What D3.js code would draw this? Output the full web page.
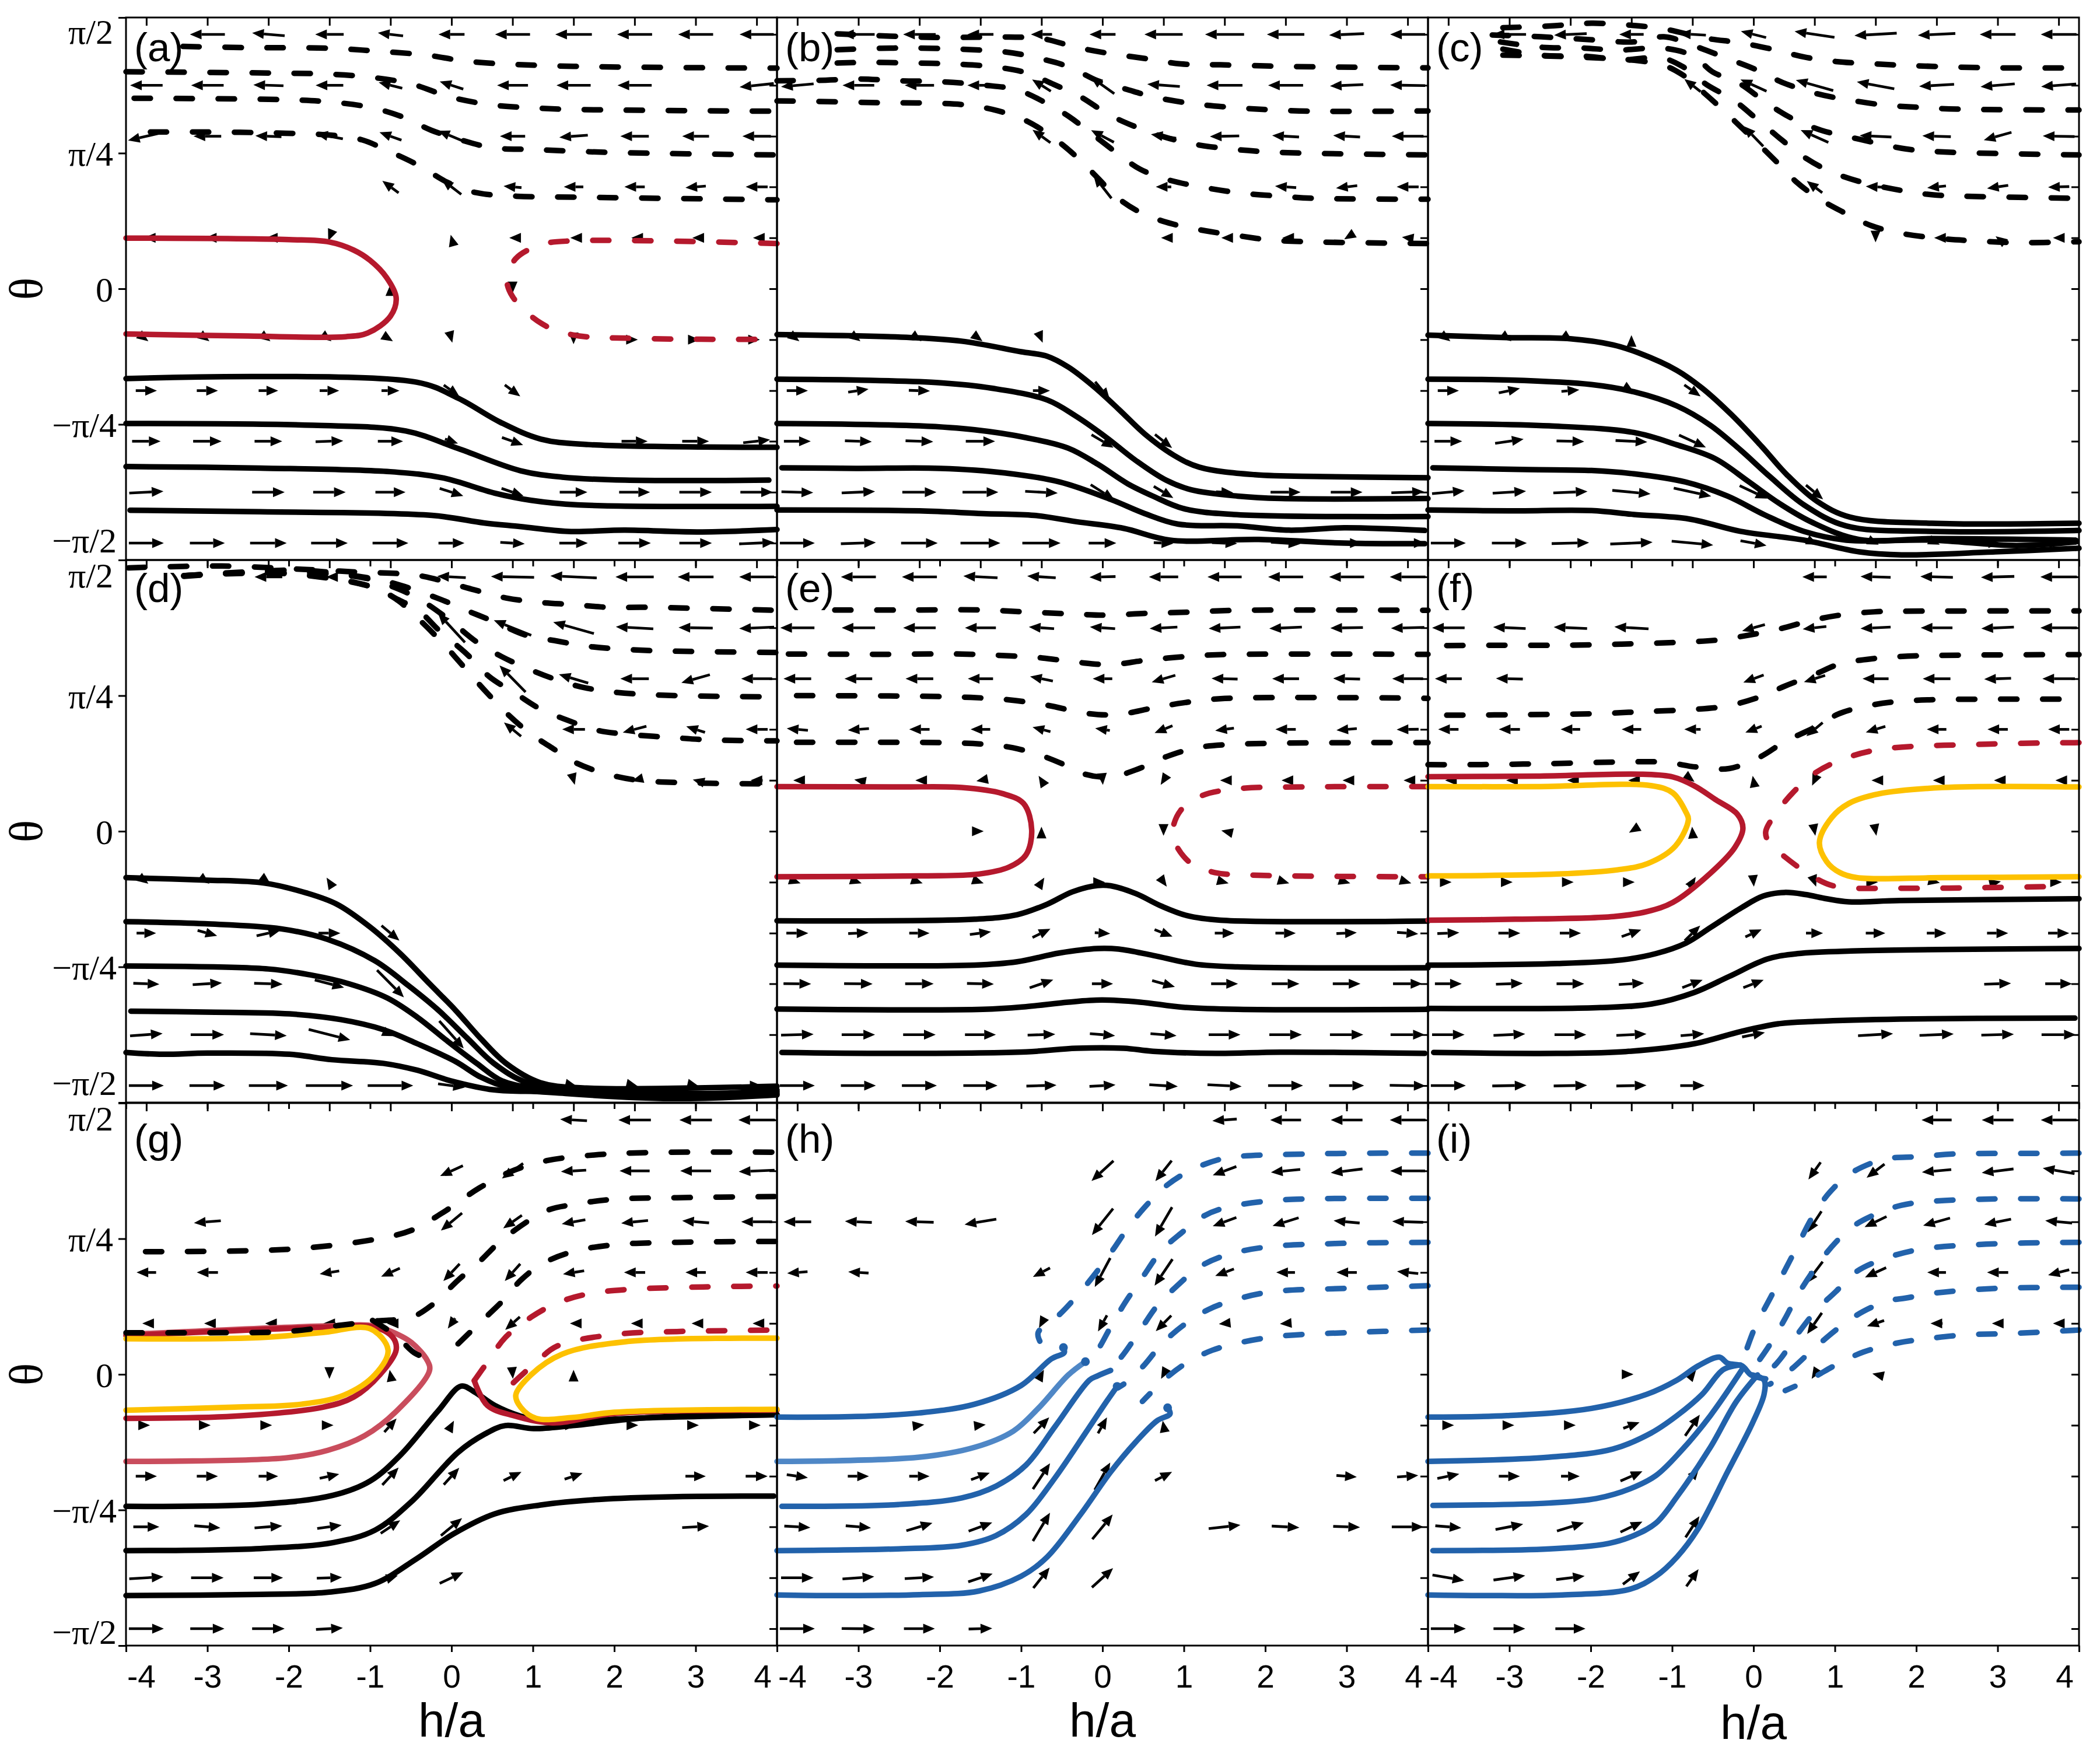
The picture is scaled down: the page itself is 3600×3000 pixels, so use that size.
<!DOCTYPE html>
<html><head><meta charset="utf-8">
<script src="https://cdn.jsdelivr.net/npm/d3@7/dist/d3.min.js"></script>
<style>html,body{margin:0;background:#fff}svg{display:block}</style></head><body>
<script>
const n=null;
const colH=[-3.75,-3,-2.25,-1.5,-.75,0,.75,1.5,2.25,3,3.75];
const rowT=[84.4,67.5,50.6,33.8,16.9,0,-16.9,-33.8,-50.6,-67.5,-84.4];
const xTicks=[-4,-3,-2,-1,0,1,2,3,4];
const yTicks=[90,45,0,-45,-90];
const yTickLabels=["π/2","π/4","0","−π/4","−π/2"];
const panelTags=["(a)","(b)","(c)","(d)","(e)","(f)","(g)","(h)","(i)"];

/* ---- (a) ---- */
const aDash=[
[[-3.3,80.4],[-2.5,80],[-1.5,79.8],[-.9,78.8],[-.3,77.5],[.1,75.8],[.5,74.8],[1.5,73.8],[4,73.2]],
[[-4,72],[-2,71.5],[-1.5,71.2],[-1,70.2],[-.5,68],[0,63.5],[.5,61],[1,60],[1.5,59.5],[4,58.9]],
[[-3.9,63.2],[-2,62.7],[-1.5,62],[-1,60.2],[-.6,57],[-.25,52.6],[.1,49.5],[.5,46.8],[1,46.2],[2,45.2],[4,44.4]],
[[-3.7,52],[-3,52],[-2.2,51.7],[-1.5,51],[-1.1,49.4],[-.8,46],[-.4,40.9],[-.05,35.3],[.3,31.9],[.8,30.7],[1.5,30.4],[4,29.5]]];
const aRed=[[[-4,16.8],[-2,16.3],[-1.5,15.5],[-1.2,12.8],[-1,9.4],[-.8,3.8],[-.68,-3],[-.75,-9.1],[-1.03,-14.7],[-1.3,-15.9],[-2.5,-15.7],[-4,-15]]];
const aRedDash=[[[4,15],[1.49,15.9],[1.11,14.7],[.79,10],[.68,3.2],[.76,-3],[1.11,-11.6],[1.49,-15.3],[2.32,-16.5],[4,-16.8]]];
const aSolid=[
[[-4,-29.8],[-.43,-31],[.08,-36.3],[.6,-44.3],[1.1,-49.9],[1.68,-51.7],[4,-52.6]],
[[-4,-44.7],[-1.7,-45.3],[-.56,-47.2],[.08,-53],[.85,-60.4],[1.36,-62.5],[2.13,-63.5],[3.9,-63.5]],
[[-4,-59],[-2.35,-59.5],[-.75,-60.7],[-.1,-62.8],[.53,-67.8],[.98,-70.2],[1.55,-71.7],[4,-72.2]],
[[-3.95,-73.5],[-2.35,-74],[-.24,-75.2],[.4,-77.7],[.85,-78.9],[1.43,-80.5],[2.13,-80.1],[3.03,-80.7],[4,-79.9]]];
const aU=[
[n,-43,-40,-35,-31,-32,-43,-45,-43,-43,-42],
[-40,-40,-37,-34,-29,-29,-38,-42,-42,n,-42],
[-45,-34,-32,-33,-27,-33,-31,-35,-35,-33,-35],
[n,n,n,n,-20,-24,-22,-24,-25,-25,-27],
[-6,-6,-6,-3,n,-2,-8,-8,-8,-8,-9],
[n,n,n,n,0,n,0,n,n,n,n],
[5,5,5,5,6,2,n,0,8,10,8],
[26,26,24,24,22,19,19,n,n,n,n],
[35,35,34,34,31,16,26,n,32,33,33],
[42,n,40,40,37,29,27,34,38,40,40],
[43,43,45,45,44,32,30,35,40,40,43]];
const aV=[
[0,0,.9,0,1,0,0,0,0,0,0],
[0,0,.3,0,1.9,2.5,0,0,0,0,-1.2],
[-2.8,0,.3,1.7,2.6,3.7,0,-.7,0,0,0],
[0,0,0,0,4,5,.5,0,0,-.5,0],
[0,0,0,-2,0,2,0,0,0,0,0],
[0,0,0,0,3,0,-3,0,0,0,0],
[-1,-1,-1,-1,-1,-2,0,-3,0,0,0],
[0,0,0,0,0,-3.7,-3.8,0,0,0,0],
[0,0,0,.3,0,-1.5,-2.5,0,0,0,1],
[.6,0,0,0,0,-2.5,-2.5,0,0,0,0],
[0,0,0,0,0,0,-.5,0,0,0,.5]];

/* ---- (b) ---- */
const bDash=[
[[-3.26,84.6],[-2.14,83.4],[-1.15,83.5],[-.74,83],[-.32,80.1],[.1,78],[.52,76.4],[.96,74.6],[1.45,74.3],[2.39,73.7],[4,73.3]],
[[-3.26,79.3],[-2.72,79.8],[-2.14,79.8],[-1.2,78.6],[-.87,77],[-.42,73.7],[-.06,69],[.28,66.3],[.62,63.7],[1.06,61.6],[1.48,60.4],[2.42,59],[4,59]],
[[-3.26,74.9],[-2.85,75.1],[-2.35,74.9],[-1.86,74.6],[-1.36,73.7],[-.94,71.7],[-.6,67.8],[-.27,63.7],[.07,57.9],[.41,53.7],[.78,50.2],[1.14,47.9],[1.56,46.4],[1.98,45.5],[2.45,45],[4,44.4]],
[[-4,69],[-3.4,69.2],[-2.98,69.6],[-2.5,69],[-1.99,68.7],[-1.47,67.6],[-1.05,66],[-.74,62.3],[-.42,57.3],[-.16,52],[.18,45],[.46,39.7],[.8,36.2],[1.25,33.6],[1.72,31.7],[2.19,30.7],[2.6,30],[4,29.7]],
[[-4,62.3],[-3.6,62.2],[-2.66,61.7],[-2.14,61.6],[-1.65,60.9],[-1.28,59],[-.92,55.5],[-.58,49.6],[-.32,43.8],[-.06,36.8],[.18,30.3],[.49,25],[.86,21.5],[1.27,19.2],[1.72,17.4],[2.05,16.2],[2.52,15.6],[4,15]]];
const bSolid=[
[[-4,-15.2],[-2.35,-16.2],[-1.73,-17.4],[-1,-20.9],[-.68,-22.4],[-.42,-26],[-.11,-32.4],[.2,-40],[.52,-48.2],[.88,-55.3],[1.19,-59.2],[1.87,-61.7],[2.71,-62.3],[4,-62.7]],
[[-4,-30],[-3.03,-30.3],[-1.99,-31.2],[-1.36,-33],[-.68,-36.9],[-.32,-42.4],[.05,-49.4],[.41,-57],[.78,-63.5],[1.09,-66.7],[1.66,-68.8],[2.19,-69.6],[4,-69.6]],
[[-4,-44.7],[-2.25,-45.5],[-1.57,-46.8],[-.94,-49.4],[-.42,-52.9],[-.06,-58.2],[.31,-64.7],[.62,-68.8],[.99,-72.9],[1.61,-74.9],[4,-75.6]],
[[-3.94,-59.4],[-3.03,-59.6],[-1.99,-59.6],[-1.2,-61.1],[-.53,-64.1],[.1,-69.9],[.52,-74.6],[.93,-78.1],[1.66,-78.7],[2.29,-80.1],[2.97,-79.3],[3.96,-80.2]],
[[-4,-73.4],[-2.25,-73.7],[-1.47,-74.6],[-.84,-75.2],[-.32,-77.3],[.26,-79.5],[.83,-83.4],[1.92,-83.2],[2.97,-84.4],[3.96,-84.6]]];
const bU=[
[n,-40,-40,-32,-26,-32,-47,-48,-46,-43,-43],
[-40,-39,-36,-32,-23,-29,-40,-44,-43,-41,-43],
[n,n,n,n,-22,-28,-31,-36,-33,-33,-39],
[n,n,n,n,n,-22,-19,n,-26,-26,-27],
[n,n,n,n,n,n,-6,-8,-8,-6,-14],
[n,n,n,n,n,n,n,n,n,n,n],
[5,5,5,5,3,n,n,n,n,n,n],
[26,25,26,n,21,18,n,n,n,n,n],
[33,33,34,36,n,27,21,n,n,n,n],
[39,41,42,44,40,29,24,21,37,39,40],
[43,43,45,49,47,34,24,31,36,37,44]];
const bV=[
[0,0,0,0,0,0,0,0,0,-.5,0],
[-1,0,0,0,3.9,5.6,.8,0,0,-.5,.2],
[0,0,0,0,4.3,4,1.3,-.2,.5,.5,0],
[0,0,0,0,0,7.6,0,0,.5,-.8,0],
[0,0,0,0,0,0,0,0,0,-1,.5],
[0,0,0,0,0,0,0,0,0,0,0],
[-1,-1,-1,-1,-2,0,0,0,0,0,0],
[0,1,-.2,0,0,-5.9,0,0,0,0,0],
[0,-.3,-.3,0,0,-4.3,-4.5,0,0,0,0],
[-.3,.5,0,0,-.6,-5,-3.9,-.3,0,0,.4],
[0,.4,0,0,0,0,-.3,-.3,-.6,0,0]];

/* ---- (c) ---- */
const cDash=[
[[-3.08,86.6],[-2.5,87.2],[-1.99,88.1],[-1.49,87.4],[-1.1,86.2],[-.58,83.1],[-.16,81.6],[.26,79.3],[.62,76.9],[1.01,75.4],[1.56,74.5],[2.08,73.9],[2.97,73.3],[4,73.3]],
[[-3.21,84.2],[-2.61,83.6],[-2.04,82.7],[-1.47,81.9],[-1.1,83.6],[-.74,80.7],[-.34,76.6],[.05,72.5],[.36,68.4],[.78,64.7],[1.14,62.8],[1.59,61],[2.03,60.2],[2.5,59.6],[4,59.3]],
[[-3.11,81.9],[-2.59,80.1],[-2.12,79.9],[-1.67,79.2],[-1.1,79.8],[-.74,77.2],[-.5,71.9],[-.19,68.4],[.15,61.9],[.46,56.7],[.83,52.6],[1.3,49.6],[1.87,46.4],[2.24,45.5],[4,44.4]],
[[-3.08,79.5],[-2.59,77.4],[-2.09,77.2],[-1.6,76],[-1.13,76.6],[-.87,73.7],[-.58,67.8],[-.24,62.5],[.05,56.1],[.36,49.1],[.65,43.2],[.93,39.1],[1.3,35.6],[1.82,32.6],[2.19,31.2],[2.6,30.7],[4,30]],
[[-3.08,77.5],[-1.2,74.8],[-.89,71.3],[-.63,65.5],[-.32,57.9],[.31,41.4],[.52,35.6],[.78,30.3],[1.09,25.6],[1.45,20.9],[1.77,18.6],[2.24,16.8],[2.71,15.9],[3.23,15.3],[4,15.6]]];
const cSolid=[
[[-4,-15.4],[-3.03,-16.2],[-2.25,-16.6],[-1.73,-18.6],[-1.41,-21.3],[-.94,-27.1],[-.63,-33],[-.27,-41.8],[.1,-52.3],[.41,-61.7],[.78,-70.5],[1.19,-75.8],[2.19,-77.8],[4,-77.8]],
[[-4,-30],[-3,-30.3],[-1.99,-31.8],[-1.47,-34.2],[-.94,-38.9],[-.53,-45.3],[-.16,-53.5],[.2,-62.3],[.62,-71.7],[1.14,-78.7],[2.19,-80.5],[4,-80.2]],
[[-4,-44.7],[-2.51,-45.5],[-1.47,-47.7],[-.94,-51.8],[-.47,-56.4],[-.06,-64],[.31,-71.1],[.72,-77.5],[1.3,-83.2],[2.19,-82.9],[3.96,-83.4]],
[[-3.94,-59.4],[-2.77,-60],[-1.99,-60.3],[-1.47,-61.4],[-.84,-64.1],[-.32,-68.8],[.15,-75.2],[.62,-80.5],[1.14,-83.4],[2.19,-83.4],[3.23,-85.2],[3.96,-84]],
[[-4,-73.4],[-3,-73.7],[-1.99,-73.6],[-1.47,-74.9],[-.79,-76.4],[-.16,-80.5],[.62,-83.4],[1.3,-87.3],[1.82,-88.3],[2.97,-87.3],[4,-86.1]]];
const cU=[
[n,-41,-40,-30,-33,-31,-49,-52,-46,-44,-44],
[n,n,n,n,-20,-32,-46,-46,-43,-42,-43],
[n,n,n,n,n,-24,-34,-39,-35,-34,-39],
[n,n,n,n,n,n,-19,-24,-23,-26,-26],
[n,n,n,n,n,n,n,0,-6,-5,-14],
[n,n,n,n,n,n,n,n,n,n,n],
[5,5,5,0,n,n,n,n,n,n,n],
[26,26,22,6,20,n,n,n,n,n,n],
[34,35,34,39,33,n,n,n,n,n,n],
[40,41,42,47,46,34,21,n,n,n,n],
[43,43,46,52,51,32,8,8,8,6,6]];
const cV=[
[0,0,-.5,0,.5,2.1,2,-.8,-.6,0,0],
[0,0,0,0,4.2,3.9,3.5,2.3,-.7,-1,-.9],
[0,0,0,0,0,6.7,4.1,.5,.3,-2.6,.2],
[0,0,0,0,0,0,3.9,.3,-.6,-1,-.2],
[0,0,0,0,0,0,0,-3,0,1,0],
[0,0,0,0,0,0,0,0,0,0,0],
[-1,-1,-1,3,0,0,0,0,0,0,0],
[0,1.5,.5,-1,-3.8,0,0,0,0,0,0],
[0,1.4,-.2,-.5,-4.1,0,0,0,0,0,0],
[1,.7,.5,-1.2,-2.7,-4.3,-4.7,0,0,0,0],
[0,0,.3,.6,-1.3,-1.6,-1,-1,-1,0,0]];

/* ---- (d) ---- */
const dDash=[
[[-3.97,87.4],[-2.82,88],[-1.83,86.9],[-1.15,86],[-.47,85.1],[-.19,83.6],[.28,80.1],[.67,77.4],[1.06,76],[1.5,75.2],[1.92,74.3],[2.39,74.3],[4,73.3]],
[[-3.29,84.8],[-2.56,86],[-1.83,86.6],[-1.2,84.8],[-.74,82.5],[-.16,77.2],[.2,73.1],[.52,69.6],[.93,64.9],[1.3,63.1],[1.61,61.6],[1.98,60.6],[2.5,59.9],[4,59.3]],
[[-3.29,84.6],[-2.25,86],[-1.1,84.2],[-.68,80.7],[-.37,76.6],[-.03,70.2],[.31,62.8],[.62,57.9],[.96,53.7],[1.3,50.2],[1.66,47.5],[2.29,45.5],[4,44.6]],
[[-3.29,84.8],[-2.09,85.7],[-1,81.3],[-.68,77.2],[-.4,73.1],[-.14,66.3],[.18,59],[.46,51.4],[.8,45.5],[1.09,40.6],[1.43,36.8],[1.79,33.5],[2.19,32.1],[2.71,31.1],[3.18,30.3],[4,30]],
[[-3.29,84.8],[-1.99,85.4],[-.94,80.7],[-.66,76.6],[-.38,69.8],[-.08,61.6],[.14,54.9],[.41,46.7],[.68,39.1],[.96,32.6],[1.25,27.4],[1.53,22.7],[1.92,18.9],[2.32,16.8],[2.76,16.2],[3.18,15.9],[4,15.7]]];
const dSolid=[
[[-4,-15.4],[-3.03,-16.2],[-2.3,-17.2],[-1.78,-20.5],[-1.41,-24.2],[-1,-31.8],[-.63,-40.6],[-.27,-50.6],[.05,-59.4],[.36,-68.8],[.67,-77],[1.09,-83.4],[1.66,-85.2],[4,-84.6]],
[[-4,-30],[-3.03,-30.7],[-2.09,-32.4],[-1.52,-35.9],[-.94,-43],[-.53,-51.2],[-.16,-59.4],[.2,-68.8],[.52,-77],[.93,-83.4],[1.66,-85.8],[3.23,-87],[4,-85.8]],
[[-4,-44.7],[-2.25,-45.7],[-1.73,-47.7],[-1.26,-50.6],[-.79,-55.3],[-.42,-61.7],[-.06,-69.4],[.31,-77],[.62,-82.8],[1.04,-85.2],[2.19,-87],[3.23,-88.1],[4,-86.4]],
[[-3.94,-59.7],[-3.03,-60],[-1.99,-60.6],[-1.36,-62.5],[-.84,-65.8],[-.42,-70.5],[.05,-76.4],[.36,-81.6],[.72,-85.2],[1.4,-87],[2.71,-88.7],[4,-87.5]],
[[-4,-73.4],[-3.55,-74],[-3,-73.6],[-1.99,-74],[-1.47,-75.8],[-.84,-77],[-.42,-79.3],[-.01,-82.8],[.52,-85.8],[1.14,-86.4],[2.71,-87.5],[4,-87]]];
const dU=[
[n,n,-34,-8,n,-35,-53,-57,-47,-44,-43],
[n,n,n,n,n,-33,-46,-50,-46,-42,-43],
[n,n,n,n,n,n,-32,-36,-35,-35,-38],
[n,n,n,n,n,n,-21,-28,-29,-23,-27],
[n,n,n,n,n,n,n,3,-7,-7,-15],
[n,n,n,n,n,n,n,n,n,n,n],
[5,5,5,-7,n,n,n,n,n,n,n],
[24,24,29,27,22,n,n,n,n,n,n],
[32,36,35,36,33,n,n,n,n,n,n],
[40,41,45,51,8,30,n,n,n,n,n],
[43,44,48,58,56,33,8,8,8,8,12]];
const dV=[
[0,0,0,0,0,.5,.3,.7,0,0,0],
[0,0,0,0,0,9.7,5,3.8,.7,.2,-.5],
[0,0,0,0,0,0,8.8,2.9,0,-2.7,0],
[0,0,0,0,0,0,4.6,0,-2.1,2,0],
[0,0,0,0,0,0,0,-3,-.5,.5,0],
[0,0,0,0,0,0,0,0,0,0,0],
[-1,-1,-1,3,0,0,0,0,0,0,0],
[0,-1.8,1.8,0,-5,0,0,0,0,0,0],
[-.3,.6,-.3,-2.5,-9,0,0,0,0,0,0],
[.8,0,-.7,-3.5,-1,-9.1,0,0,0,0,0],
[0,0,0,0,0,-1.2,0,-.5,-.5,-.5,0]];

/* ---- (e) ---- */
const eDash=[
[[-3.29,73.4],[-2.51,73.4],[-1.47,73.4],[-.89,72.7],[-.37,72.1],[.05,71.7],[.54,72.3],[1.04,72.7],[1.66,73.3],[4,73.3]],
[[-3.86,58.8],[-2.77,58.7],[-1.73,58.8],[-1.15,58.2],[-.74,57.5],[-.32,56.1],[.1,55.3],[.52,56.7],[.99,57.9],[1.45,58.6],[4,58.7]],
[[-3.76,45],[-2.25,44.8],[-1.62,44.4],[-1.15,43.6],[-.68,41.8],[-.19,39.1],[.18,38.7],[.62,40.9],[.99,42.6],[1.45,44],[4,44.1]],
[[-3.76,29.5],[-1.99,29.4],[-1.47,28.9],[-1.1,27.7],[-.74,25],[-.42,21.5],[-.21,18.9],[.1,18],[.46,20.9],[.78,24.7],[1.14,27.6],[1.56,28.8],[4,29.4]]];
const eRed=[[[-4,14.8],[-2.51,14.7],[-1.73,14.5],[-1.23,12.5],[-.97,9.2],[-.87,.4],[-.94,-7.8],[-1.15,-11.9],[-1.52,-14.2],[-2.25,-14.8],[-4,-15.1]]];
const eRedDash=[[[4,14.8],[2.45,14.7],[1.66,14.1],[1.22,11.8],[.96,6.9],[.86,-.2],[.91,-4.9],[1.09,-10.7],[1.38,-13.7],[1.92,-14.6],[4,-15.1]]];
const eSolid=[
[[-4,-29.7],[-1.57,-29.2],[-1.05,-27.7],[-.68,-24.2],[-.37,-20.1],[-.06,-18],[.1,-18.1],[.41,-20.7],[.72,-24.8],[1.04,-28],[1.45,-29.5],[4,-29.8]],
[[-4,-44.4],[-1.57,-44.4],[-1.05,-43.3],[-.53,-40.4],[-.06,-38.9],[.2,-39.1],[.62,-41.2],[1.14,-44.1],[1.66,-45],[4,-45.3]],
[[-4,-59],[-1.47,-59.1],[-.94,-58.2],[-.42,-56.7],[-.01,-56],[.46,-56.7],[.99,-58.4],[1.66,-59.1],[4,-59.1]],
[[-3.94,-73.4],[-2.51,-73.7],[-.94,-73.2],[-.32,-72],[.26,-72],[.62,-73],[1.4,-73.7],[2.19,-73.3],[3.96,-73.7]]];
const eU=[
[n,-43,-43,-42,-35,-32,-36,-42,-43,-43,-44],
[-42,-41,-40,-38,-31,-31,-34,-39,-40,-40,-41],
[-34,-34,-34,-31,-28,-24,-29,-32,-33,-33,-38],
[-26,-26,-25,-24,-22,-18,-22,-23,-25,-25,-27],
[-10,-10,-10,-10,-7,1,-7,-11,-10,-10,-10],
[n,n,n,8,0,n,0,-8,n,n,n],
[8,8,8,8,7,6,8,10,9,9,9],
[27,25,25,26,22,19,22,24,25,25,26],
[34,35,35,33,29,26,28,33,34,34,36],
[40,41,40,38,34,31,32,39,40,41,42],
[43,43,43,42,37,32,35,42,43,43,44]];
const eV=[
[0,0,0,.6,.6,-.2,0,0,0,0,0],
[0,0,0,0,.6,.6,-.5,-.5,-.5,-.2,-.3],
[0,0,0,0,1.5,0,-2.3,.2,0,.2,0],
[.6,-.5,0,0,1.5,.7,-2.4,-.8,0,-.5,-.1],
[0,.5,0,-.5,3,-3,-3,0,0,0,0],
[0,0,0,0,3,0,-3,.5,0,0,0],
[-.7,-.7,-.7,-.7,3,0,-3,-.7,-.7,-.7,-.7],
[0,.3,0,.9,2.9,-.3,-2.3,0,0,.3,-.5],
[-.1,-.1,0,-.2,2.7,0,-2.1,0,0,0,0],
[.3,0,0,0,.3,-.7,-.7,0,0,0,0],
[0,0,0,0,.3,.5,-.6,-.6,0,0,-.2]];

/* ---- (f) ---- */
const fDash=[
[[-3.77,61.6],[-3.2,61.7],[-2.41,61.7],[-1.62,62.1],[-.83,62.8],[-.46,63.4],[-.09,64.9],[.33,67.2],[.69,69.8],[1.06,71.7],[1.48,72.8],[1.85,73],[4,73.1]],
[[-3.77,38.5],[-2.78,38.7],[-1.83,39.1],[-1.36,39.7],[-.83,40.3],[-.36,41.4],[.06,44.4],[.38,48.1],[.75,52],[1.06,55.5],[1.48,57.3],[1.9,58.1],[4,58.6]],
[[-4,22.1],[-3.46,22.1],[-2.57,22.4],[-1.62,23],[-1.09,22.9],[-.7,21.3],[-.3,20.8],[.09,24.8],[.38,29.7],[.75,34.4],[1.06,39.1],[1.48,42],[1.85,43.2],[2.32,43.7],[4,43.8]]];
const fRed=[[[-4,18.1],[-2.67,18.3],[-1.36,18.9],[-.99,18],[-.73,15.1],[-.46,10.4],[-.2,5.7],[-.13,1],[-.23,-5.4],[-.52,-13.7],[-.99,-23.6],[-1.3,-26.6],[-1.72,-28.3],[-2.93,-29.2],[-4,-29.5]]];
const fRedDash=[[[4,29.4],[2.85,28.9],[1.54,27.1],[1.06,23.5],[.75,19.2],[.48,12.7],[.27,5.7],[.15,-.2],[.19,-3.7],[.38,-8.4],[.75,-15.4],[1.01,-18.3],[1.8,-18.9],[2.85,-18.7],[3.8,-18.3]]];
const fYellow=[
[[-4,14.8],[-2.67,14.8],[-1.25,15.1],[-.99,12.7],[-.83,6.3],[-.8,3.9],[-.96,-4.9],[-1.3,-10.7],[-1.67,-12.8],[-2.41,-14.2],[-4,-14.8]],
[[4,14.7],[2.32,14.5],[1.54,12.4],[1.17,9.2],[.96,4.5],[.81,-3.7],[.9,-10.1],[1.06,-13.7],[1.27,-15.4],[2.32,-15.4],[4,-15.1]]];
const fSolid=[
[[4,-22.4],[1.8,-23],[1.17,-23.4],[.9,-22.4],[.64,-21],[.38,-20.3],[.12,-21.5],[-.15,-25.4],[-.52,-31.8],[-.83,-37.1],[-1.2,-40.6],[-1.62,-42.7],[-2.41,-43.9],[-4,-44.4]],
[[4,-38.9],[1.27,-39.7],[.54,-40.6],[.17,-42.4],[-.3,-48.2],[-.73,-53.5],[-1.25,-57.3],[-1.88,-58.5],[-4,-58.8]],
[[3.95,-62],[1.8,-62.3],[.75,-63.1],[.33,-63.8],[-.15,-66.4],[-.73,-70.5],[-1.57,-73.1],[-2.41,-73.7],[-3.93,-73.4]]];
const fU=[
[n,n,n,n,n,n,-30,-37,-40,-41,-45],
[-40,-40,-41,-42,n,-28,-29,-37,-39,-40,-45],
[-33,-33,n,n,n,-25,-26,-32,-34,-33,-40],
[-25,-26,-24,-24,-20,-20,-20,-24,-24,-25,-26],
[-8,-8,-8,-8,5,-2,-6,-10,-9,-9,-8],
[n,n,n,-6,-1,n,2,2,n,n,n],
[8,8,8,8,8,1,4,6,8,8,8],
[27,27,26,24,19,20,21,24,24,26,26],
[33,33,34,31,25,25,n,n,n,33,33],
[40,39,39,37,29,28,n,43,42,40,42],
[43,42,41,37,30,n,n,n,n,n,n]];
const fV=[
[0,0,0,0,0,0,0,.3,.3,-.3,0],
[0,.5,.5,.7,0,-2.1,-.9,-.5,0,-.5,0],
[0,.2,0,0,0,-2.5,-2.2,0,0,-.3,0],
[0,0,0,0,0,-2.1,-4.5,-2,0,0,0],
[0,0,0,0,-1,3,-3.5,0,0,0,0],
[0,0,0,-1,3,0,-3,-3,0,0,0],
[0,0,0,0,3.5,-3,-3,0,-.5,.5,0],
[.3,0,0,2.3,5,2.5,0,0,0,0,0],
[0,.3,0,.5,2.6,2.6,0,0,0,.3,0],
[0,.5,0,.5,.7,1.5,0,.7,.5,.3,0],
[0,.2,.2,.2,0,0,0,0,0,0,0]];

/* ---- (g) ---- */
const gDash=[
[[-3.76,40.7],[-2.35,41.1],[-1.71,42.1],[-.94,44.8],[-.49,47.8],[-.11,53.6],[.34,61.8],[.72,67.2],[1.17,70.9],[1.81,72.9],[2.45,73.6],[4,73.7]],
[[-4,13.8],[-2.99,13.8],[-2.03,14.2],[-1.39,16.2],[-.97,17.6],[-.49,19],[-.24,23],[.08,31.2],[.34,37.3],[.63,44.8],[1.17,54.3],[1.49,56.3],[2,58.1],[2.77,58.6],[4,59]],
[[.08,10.1],[.34,16.9],[.63,24.4],[.85,31.2],[1.11,36.6],[1.49,40.7],[2,43],[2.77,43.8],[4,44.1]],
[[-.97,17.9],[-.68,12.8],[-.43,6.7],[-.11,4.7]]];
const gRedDash=[
[[.28,-2.1],[.44,4],[.66,12.2],[.98,19],[1.3,23.7],[1.68,26.7],[2.13,28.1],[3.09,29],[4,29.3]],
[[.76,-2.8],[1.04,4],[1.3,9.4],[2,13.2],[2.77,14.2],[3.41,14.5],[4,14.7]]];
const gRed=[
[[-4,-14.6],[-2.67,-13.9],[-1.58,-10.9],[-1.2,-7.5],[-.88,-.1],[-.68,8.1],[-.72,12.2],[-.94,15.6],[-1.58,15.6],[-4,12.8]],
[[.28,-2.1],[.44,-10.3],[.76,-13.7],[1.24,-16.1],[2,-13],[4,-11.9]]];
const gPink=[[[-4,-28.9],[-2.03,-27.7],[-1.52,-25.2],[-1.07,-20.4],[-.68,-12.3],[-.27,1.3],[-.3,4.7],[-.49,10.5],[-.68,13.5],[-.94,16],[-1.58,16],[-4,13.2]]];
const gYellow=[
[[-4,11.8],[-2.35,12.2],[-1.58,13.9],[-1,15.1],[-.78,8.1],[-.94,-.1],[-1.32,-6.9],[-1.84,-9.9],[-2.67,-10.9],[-4,-11.9]],
[[4,12],[2.13,10.8],[1.36,6.7],[.98,-.1],[.79,-6.9],[.85,-10.9],[1.04,-14.6],[1.49,-14.3],[2,-12.6],[4,-11.6]]];
const gSolid=[
[[-4,-43.8],[-2.35,-43.1],[-1.45,-40.1],[-1,-35.4],[-.62,-26.6],[-.17,-12.3],[.12,-3.9],[.28,-5.8],[.53,-10.3],[.85,-13.9],[1.1,-15.4],[1.49,-15.7],[2.13,-14.7],[4,-13.4]],
[[-4,-58.5],[-2.35,-57.8],[-1.45,-55.8],[-.94,-51.7],[-.49,-42.2],[.08,-25.9],[.41,-19.8],[.66,-17],[1.01,-18],[1.49,-17],[2.45,-14.3],[4,-13.4]],
[[-4,-73.4],[-2.35,-73],[-1.52,-72.3],[-.94,-69.4],[-.43,-61.2],[.02,-53],[.53,-46.3],[1.11,-43.3],[1.81,-41.5],[2.77,-40.6],[3.96,-40.4]]];
const gU=[
[n,n,n,n,n,n,n,-33,-40,-40,-45],
[n,n,n,n,n,-28,-26,-31,-37,-38,-44],
[n,-33,n,n,n,-26,-23,-29,-33,-33,-38],
[-24,-26,n,-24,-23,-20,-19,-26,-26,-25,-27],
[-10,-8,-8,-15,-9,-9,-18,-9,-9,-10,-10],
[n,n,n,0,-2,n,1,0,n,n,n],
[9,8,9,10,15,6,n,8,9,8,10],
[26,26,24,24,20,19,22,22,n,25,27],
[32,32,34,30,24,26,n,n,n,33,n],
[42,40,36,31,18,29,n,n,n,n,n],
[43,42,40,33,n,n,n,n,n,n,n]];
const gV=[
[0,0,0,0,0,0,0,.5,0,0,0],
[0,0,0,0,0,-3.4,-5,-.5,0,0,-.5],
[0,-.7,0,0,0,-5.8,-4.3,-1.4,-.9,.7,0],
[0,0,0,-1,-2.8,-5.7,-5.7,-1.1,0,0,0],
[0,0,0,0,0,-3.4,-4.3,0,0,0,0],
[0,0,0,-3,3,0,-3,3,0,0,0],
[0,0,0,0,4.5,3,0,0,0,0,0],
[0,0,0,1.4,5.8,5.6,2.9,2,0,0,0],
[0,-.7,.7,1.1,4.3,5.8,0,0,0,.5,0],
[.7,0,0,.3,1.5,3.7,0,0,0,0,0],
[0,0,0,.5,0,0,0,0,0,0,0]];

/* ---- (h) ---- */
const hBlueDash=[
[[4,73.4],[3.44,73.4],[2.5,73.1],[1.66,72.3],[1.45,71.4],[1.09,67.8],[.78,62.5],[.52,55.5],[.31,48.5],[.13,41.4],[-.06,34.4],[-.27,27.4],[-.53,19.8],[-.79,13.9],[-.77,11]],
[[4,58.4],[2.5,58.2],[2.03,57.5],[1.51,55.3],[1.25,52.6],[.96,46.7],[.72,40.9],[.49,32.1],[.28,23.9],[.1,15.7],[-.08,7.4],[-.21,4.5]],
[[4,43.8],[2.86,43.4],[2.03,42.3],[1.51,39.5],[1.19,35.6],[.93,29.7],[.67,22.7],[.46,14.5],[.23,5.7],[.05,.6]],
[[4,29.4],[2.97,28.5],[2.08,27.4],[1.66,25],[1.3,21.5],[.99,16.2],[.72,9.8],[.52,3.3],[.33,-1.9],[.2,-4.3]],
[[4,14.7],[3.07,13.9],[2.19,12.7],[1.72,10.7],[1.35,8],[1.04,3.9],[.78,-1.3],[.49,-9]]];
const hBlue=[
[[-4,-14.2],[-3.03,-14],[-2.25,-12.8],[-1.57,-9.9],[-1,-3.7],[-.63,5.1],[-.47,7.2],[-.48,8.9]],
[[-3.94,-43.8],[-2.51,-43.2],[-1.73,-41],[-1.31,-37.1],[-.94,-30.1],[-.58,-17.2],[-.16,-1.9],[-.06,-.5],[.1,1.3]],
[[-4,-58.5],[-2.51,-57.9],[-1.73,-56.7],[-1.31,-53.5],[-.94,-46.5],[-.58,-34.2],[-.21,-19.5],[.05,-9],[.18,-4]],
[[-4,-73.2],[-3.29,-73.4],[-2.25,-73.1],[-1.52,-71.9],[-1,-67],[-.68,-60.6],[-.27,-46.5],[.1,-32.4],[.41,-22.4],[.67,-15.4],[.83,-13.1],[.8,-11.1]]];
const hLight=[[[-4,-28.9],[-2.25,-27.5],[-1.57,-24.2],[-1.1,-18.9],[-.79,-11.3],[-.42,-.2],[-.21,4.2]]];
const hEnds=[[-.48,8.9],[-.21,4.2],[.18,-4],[.8,-11.1]];
const hU=[
[n,n,n,n,n,n,n,-30,-38,-39,-44],
[n,n,n,n,n,-27,-20,-29,-36,-39,-43],
[-34,-33,-35,-39,n,-26,-21,-29,-32,-32,-38],
[-25,-25,n,n,-21,-19,-22,-23,-23,-25,-26],
[n,n,n,n,-6,-11,-19,-14,-14,n,n],
[n,n,n,n,6,n,-6,n,n,n,n],
[n,n,12,13,19,11,-2,n,n,n,n],
[26,26,25,23,21,19,21,n,n,25,26],
[32,31,32,29,21,25,n,39,34,33,39],
[40,39,36,30,20,26,n,n,n,n,n],
[43,41,38,29,n,n,n,n,n,n,n]];
const hV=[
[0,0,0,0,0,0,0,-.6,0,0,0],
[0,0,0,0,0,-6.7,-6.8,-2.9,-1,-1.3,0],
[0,.4,.3,-1.8,0,-8.8,-9.7,-2.9,-2.7,.8,.3],
[-.5,.4,0,0,-3,-9.6,-8.8,-2.3,0,0,.7],
[0,0,0,0,-3,-5.3,-5.2,-.4,-.3,0,0],
[0,0,0,0,3,0,-3,0,0,0,0],
[0,0,.4,.4,5.3,5.3,3,0,0,0,0],
[-1,0,0,2.3,8.6,9.1,2.9,0,0,-.5,.5],
[-.5,-.7,2.6,2.9,9.4,8.2,0,1.2,-.5,-.3,0],
[0,.8,.6,2.7,6.8,6.4,0,0,0,0,0],
[0,-.1,0,.2,0,0,0,0,0,0,0]];

/* ---- (i) ---- */
const iBlueDash=[
[[4,73.4],[3.38,73.3],[2.45,73.1],[2.03,72.2],[1.66,71.7],[1.48,70.4],[1.19,66.6],[.93,60.2],[.72,52],[.54,42.6],[.36,33.2],[.2,25],[.02,15.7],[-.11,6.3]],
[[4,58.2],[2.97,58.2],[2.13,57.3],[1.82,56.1],[1.59,54.1],[1.25,49.6],[1.01,43.8],[.8,36.8],[.54,26.2],[.39,18.6],[.2,9.8],[.05,3.9]],
[[4,43.8],[2.86,43.2],[2.03,41.4],[1.56,37.9],[1.25,33.8],[1.01,27.4],[.78,21.5],[.54,13.3],[.33,5.1],[.15,-.2]],
[[4,28.9],[2.97,28.5],[2.24,27],[1.87,25.3],[1.66,24.4],[1.35,20.9],[1.06,15.7],[.72,8],[.46,1.6],[.2,-3.3]],
[[4,14.7],[3.13,13.5],[2.6,13.1],[2.13,11.8],[1.77,10.4],[1.35,7.4],[1.01,3.1],[.72,-1.3],[.39,-5.4]]];
const iBlue=[
[[-4,-14.2],[-3.03,-13.7],[-1.99,-11.3],[-1.31,-6.6],[-.94,-1.9],[-.68,2.8],[-.42,5.7],[-.32,3.7],[-.14,2.8],[-.03,-.2],[.15,-1.5]],
[[-4,-28.9],[-2.51,-27.5],[-1.73,-24.8],[-1.26,-19.5],[-.94,-13.7],[-.63,-6.6],[-.37,1.6],[-.16,3.1]],
[[-3.94,-43.5],[-2.51,-42.7],[-1.93,-41.2],[-1.52,-38],[-1.2,-33.6],[-.89,-25.4],[-.53,-13.7],[-.14,1.6]],
[[-3.94,-58.5],[-2.51,-57.9],[-1.78,-56.1],[-1.47,-53.5],[-1.2,-49.4],[-.94,-40.6],[-.53,-24.2],[-.21,-9],[.05,-.2]],
[[-4,-73.2],[-3.29,-73.4],[-2.35,-73.2],[-1.52,-71.3],[-1.2,-67],[-.94,-60.6],[-.68,-51.2],[-.32,-32.4],[-.01,-16],[.13,-6.6],[.13,-1.9],[-.01,-.2]]];
const iU=[
[n,n,n,n,n,n,n,n,-37,-39,-44],
[n,n,n,n,n,n,-15,-22,-36,-39,-39],
[n,n,n,n,n,n,-17,-27,-33,-33,-33],
[n,n,n,n,n,n,-20,-26,-23,-26,-26],
[n,n,n,n,n,n,-18,-21,-15,-14,-14],
[n,n,n,5,9,n,-7,-8,n,n,n],
[14,12,13,20,18,n,n,n,n,n,n],
[27,26,23,27,16,n,n,n,n,n,n],
[32,34,33,27,17,n,n,n,n,n,n],
[39,39,35,21,15,n,n,n,n,n,n],
[43,39,37,n,n,n,n,n,n,n,n]];
const iV=[
[0,0,0,0,0,0,0,0,0,0,0],
[0,0,0,0,0,0,-5.7,-4.5,-.9,-1.3,1.8],
[0,0,0,0,0,0,-7,-3.5,-2.5,-1.8,.8],
[0,0,0,0,0,0,-7.2,-3.2,0,0,-1.8],
[0,0,0,0,0,0,-7,-1.9,0,0,0],
[0,0,0,0,3,0,-3,.5,0,0,0],
[0,0,0,2,7,0,0,0,0,0,0],
[1.5,0,0,3.2,5.3,0,0,0,0,0,0],
[-.7,1.8,2.8,3.5,7,0,0,0,0,0,0],
[-1.8,1.5,1.2,4.3,5.7,0,0,0,0,0,0],
[0,0,0,0,0,0,0,0,0,0,0]];

const colX=[216,1332,2448], rowY=[30,960,1891];
const W=1116,H=930;
const BLACK="#000",RED="#b5192d",PINK="#c94d5d",YEL="#fdc100",BLUE="#2262ab",LIGHT="#4f87c6";
const SOL=null,DSH="28 44";
const panels=[
 {U:aU,V:aV,g:[[aDash,BLACK,DSH],[aRedDash,RED,DSH],[aRed,RED,SOL],[aSolid,BLACK,SOL]]},
 {U:bU,V:bV,g:[[bDash,BLACK,DSH],[bSolid,BLACK,SOL]]},
 {U:cU,V:cV,g:[[cDash,BLACK,DSH],[cSolid,BLACK,SOL]]},
 {U:dU,V:dV,g:[[dDash,BLACK,DSH],[dSolid,BLACK,SOL]]},
 {U:eU,V:eV,g:[[eDash,BLACK,DSH],[eRedDash,RED,DSH],[eRed,RED,SOL],[eSolid,BLACK,SOL]]},
 {U:fU,V:fV,g:[[fDash,BLACK,DSH],[fRedDash,RED,DSH],[fRed,RED,SOL],[fYellow,YEL,SOL],[fSolid,BLACK,SOL]]},
 {U:gU,V:gV,g:[[gRedDash,RED,DSH],[gSolid,BLACK,SOL],[gPink,PINK,SOL],[gRed,RED,SOL],[gYellow,YEL,SOL],[gDash,BLACK,DSH]]},
 {U:hU,V:hV,dots:hEnds,g:[[hBlueDash,BLUE,DSH],[hLight,LIGHT,SOL],[hBlue,BLUE,SOL]]},
 {U:iU,V:iV,g:[[iBlueDash,BLUE,DSH],[iBlue,BLUE,SOL]]}
];
const x=d3.scaleLinear().domain([-4,4]).range([0,W]);
const y=d3.scaleLinear().domain([-90,90]).range([H,0]);
const line=d3.line().x(d=>x(d[0])).y(d=>y(d[1])).curve(d3.curveCatmullRom.alpha(.5));
const svg=d3.select("body").append("svg").attr("width",3600).attr("height",3000);
const tagBase=[75,72,85], topLab=[44,46,46], botLab=[-14,-14,-4];

panels.forEach((p,i)=>{
  const c=i%3,r=Math.floor(i/3);
  const g=svg.append("g").attr("transform",`translate(${colX[c]},${rowY[r]})`);
  p.U.forEach((row,ri)=>row.forEach((u,ci)=>{
    if(u===null)return;
    const du=u/100,dv=p.V[ri][ci];
    const x0=x(colH[ci]-du/2),y0=y(rowT[ri]-dv/2),x1=x(colH[ci]+du/2),y1=y(rowT[ri]+dv/2);
    const a=Math.atan2(y1-y0,x1-x0),L=20,w=8.5;
    const bx=x1-L*Math.cos(a),by=y1-L*Math.sin(a);
    if(Math.hypot(x1-x0,y1-y0)>L)
      g.append("line").attr("x1",x0).attr("y1",y0).attr("x2",bx).attr("y2",by).attr("stroke","#000").attr("stroke-width",4.6);
    g.append("path").attr("d",`M${x1},${y1}L${bx-w*Math.sin(a)},${by+w*Math.cos(a)}L${bx+w*Math.sin(a)},${by-w*Math.cos(a)}Z`).attr("fill","#000");
  }));
  p.g.forEach(([ls,col,dash])=>ls.forEach(d=>{
    g.append("path").attr("d",line(d)).attr("fill","none").attr("stroke",col).attr("stroke-width",9.5)
     .attr("stroke-linecap","round").attr("stroke-linejoin","round").attr("stroke-dasharray",dash);
  }));
  (p.dots||[]).forEach(d=>g.append("circle").attr("cx",x(d[0])).attr("cy",y(d[1])).attr("r",7.5).attr("fill",BLUE));
  g.append("rect").attr("width",W).attr("height",H).attr("fill","none").attr("stroke","#000").attr("stroke-width",3);
  const top=g.append("g").call(d3.axisBottom(x).tickValues(colH).tickSize(14).tickFormat(""));
  const right=g.append("g").attr("transform",`translate(${W},0)`).call(d3.axisLeft(y).tickValues(rowT).tickSize(13).tickFormat(""));
  const bot=g.append("g").attr("transform",`translate(0,${H})`).call(d3.axisBottom(x).tickValues(xTicks).tickSize(11).tickPadding(22).tickFormat(r===2?(d=>d):""));
  [top,right,bot].forEach(a=>{a.select(".domain").remove();a.selectAll("line").attr("stroke","#000").attr("stroke-width",3);});
  bot.selectAll("text").attr("font-family","Liberation Sans").attr("font-size",55).attr("fill","#000")
     .attr("dx",d=>d===-4?26:d===4?-25:0);
  if(c===0){
    const left=g.append("g").call(d3.axisLeft(y).tickValues(yTicks).tickSize(13).tickPadding(9)
      .tickFormat((d,k)=>yTickLabels[k]));
    left.select(".domain").remove();
    left.selectAll("line").attr("stroke","#000").attr("stroke-width",3);
    left.selectAll("text").attr("font-family","Liberation Serif").attr("font-size",60).attr("fill","#000")
      .attr("dx",d=>d<0?6:0)
      .attr("dy",d=>d===90?topLab[r]:d===-90?botLab[r]:"0.35em");
    g.append("text").attr("transform",`translate(${46-colX[0]},${H/2}) rotate(-90)`).attr("text-anchor","middle").attr("dy","0.33em")
      .attr("font-family","Liberation Serif").attr("font-size",80).text("θ");
  }
  if(r===2){
    g.append("text").attr("x",W/2).attr("y",H+(c===2?160:156)).attr("text-anchor","middle")
      .attr("font-family","Liberation Sans").attr("font-size",82).text("h/a");
  }
  g.append("text").attr("x",14).attr("y",tagBase[r]).attr("font-family","Liberation Sans").attr("font-size",69).text(panelTags[i]);
});
</script></body></html>
